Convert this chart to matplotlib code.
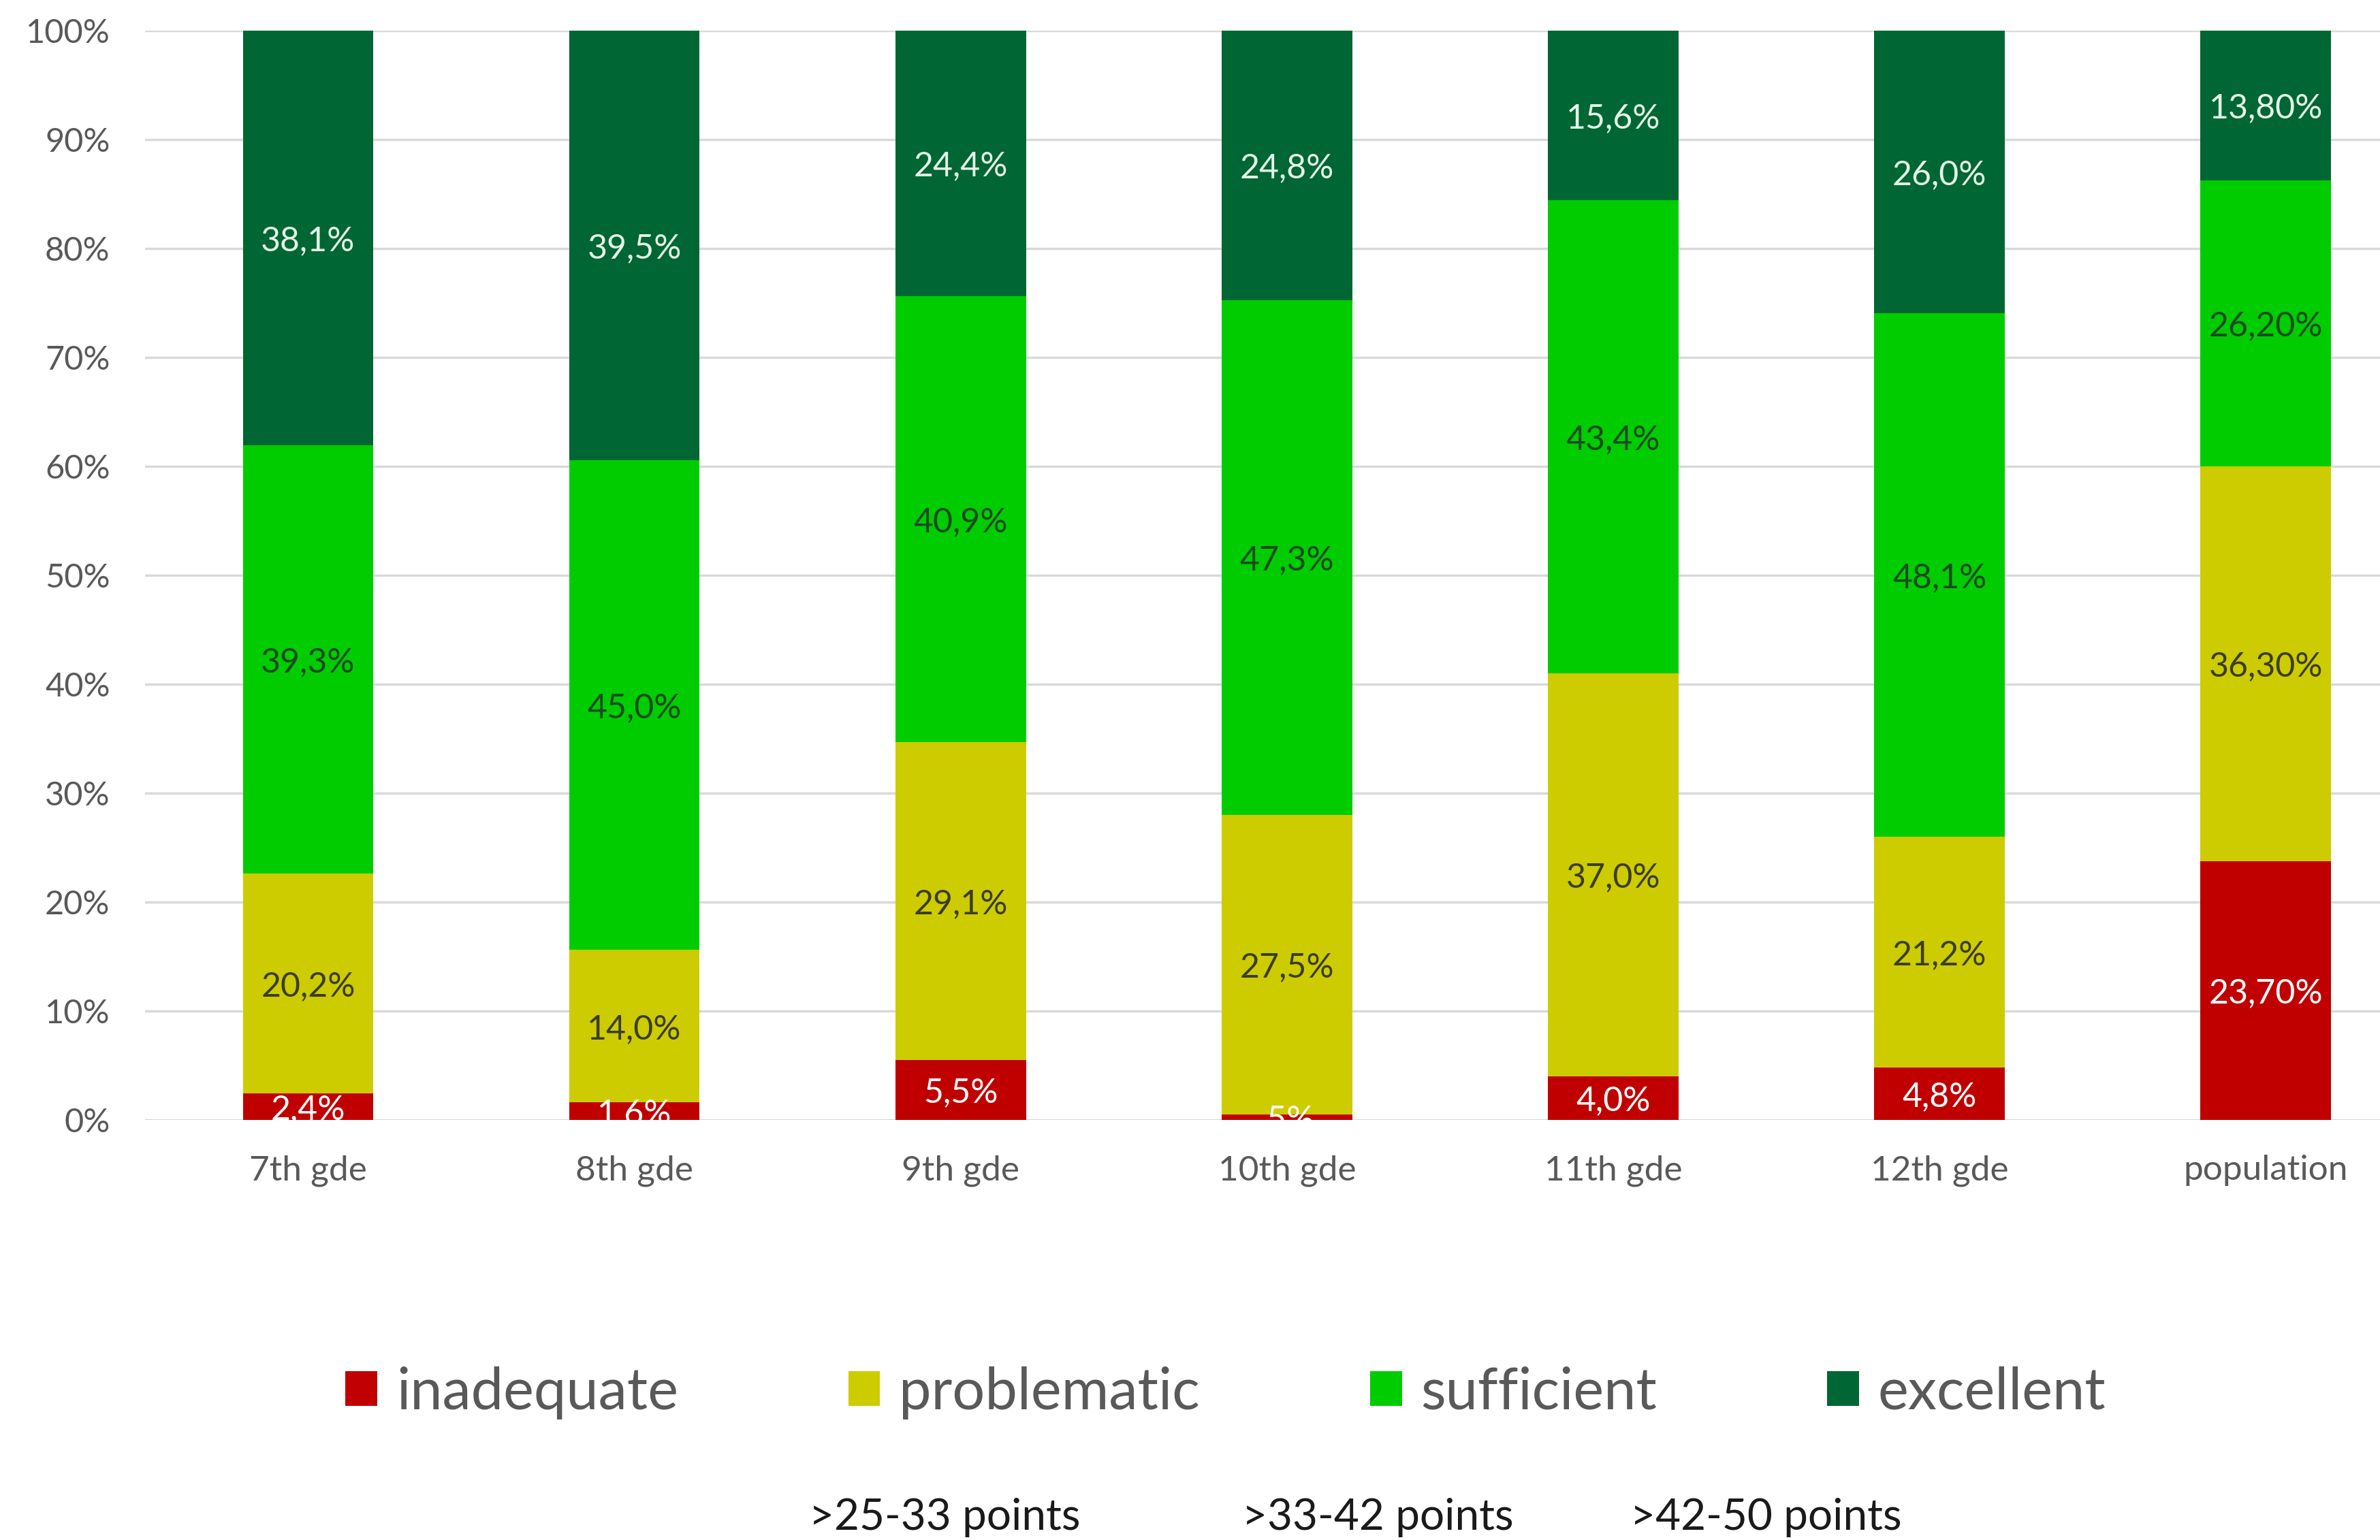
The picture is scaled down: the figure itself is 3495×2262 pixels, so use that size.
import matplotlib.pyplot as plt
import numpy as np

plt.rcParams["font.family"] = ["Lato", "DejaVu Sans"]

grades = ["7th gde", "8th gde", "9th gde", "10th gde", "11th gde", "12th gde", "population"]
levels = ["inadequate", "problematic", "sufficient", "excellent"]
inadequate = [2.4, 1.6, 5.5, 0.5, 4.0, 4.8, 23.7]
problematic = [20.2, 14.0, 29.1, 27.5, 37.0, 21.2, 36.3]
sufficient = [39.3, 45.0, 40.9, 47.3, 43.4, 48.1, 26.2]
excellent = [38.1, 39.5, 24.4, 24.8, 15.6, 26.0, 13.8]
label_text = [
    ["2,4%", "1,6%", "5,5%", ",5%", "4,0%", "4,8%", "23,70%"],
    ["20,2%", "14,0%", "29,1%", "27,5%", "37,0%", "21,2%", "36,30%"],
    ["39,3%", "45,0%", "40,9%", "47,3%", "43,4%", "48,1%", "26,20%"],
    ["38,1%", "39,5%", "24,4%", "24,8%", "15,6%", "26,0%", "13,80%"],
]
point_ranges = [">25-33 points", ">33-42 points", ">42-50 points"]

colors = ["#C00000", "#CCCC00", "#00CC00", "#006633"]
text_colors = ["#FFFFFF", "#3C3C28", "#1B4A22", "#E4F4E8"]

series = np.array([inadequate, problematic, sufficient, excellent])
# 100% stacked: each column is scaled to its own total
shares = series / series.sum(axis=0) * 100

fig = plt.figure(figsize=(34.95, 22.62), dpi=100)
ax = fig.add_axes([0.0609, 0.2729, 0.9391, 0.7074])

x = np.arange(len(grades))
bottom = np.zeros(len(grades))
handles = []
for i, name in enumerate(levels):
    bars = ax.bar(x, shares[i], 0.4, bottom=bottom, color=colors[i], label=name, zorder=3)
    handles.append(bars)
    for j, b in enumerate(bars):
        ax.text(b.get_x() + b.get_width() / 2, bottom[j] + shares[i][j] / 2,
                label_text[i][j], ha="center", va="center_baseline", fontsize=36,
                color=text_colors[i], zorder=4, clip_on=True)
    bottom += shares[i]

ax.set_xlim(-0.5, 6.35)
ax.set_ylim(0, 100)
ax.set_yticks(np.arange(0, 101, 10))
ax.set_yticklabels([f"{v}%" for v in range(0, 101, 10)])
ax.set_xticks(x)
ax.set_xticklabels(grades)
ax.grid(axis="y", color="#D9D9D9", linewidth=2.5, zorder=0)
ax.tick_params(axis="y", length=0, pad=37, labelsize=35, labelcolor="#595959")
ax.tick_params(axis="x", length=0, pad=37, labelsize=37, labelcolor="#595959")
for s in ax.spines.values():
    s.set_visible(False)

ax.legend(handles=handles, loc="center", bbox_to_anchor=(0.515, 0.0956),
          bbox_transform=fig.transFigure, ncol=4, frameon=False, fontsize=61,
          handlelength=0.55, handleheight=0.55, handletextpad=0.33,
          columnspacing=2.95, labelcolor="#595959")

for xf, txt in zip([0.397, 0.579, 0.742], point_ranges):
    fig.text(xf, 0.0148, txt, ha="center", va="center", fontsize=46, color="#1A1A1A")

fig.savefig("out.png", dpi=100, facecolor="white")
